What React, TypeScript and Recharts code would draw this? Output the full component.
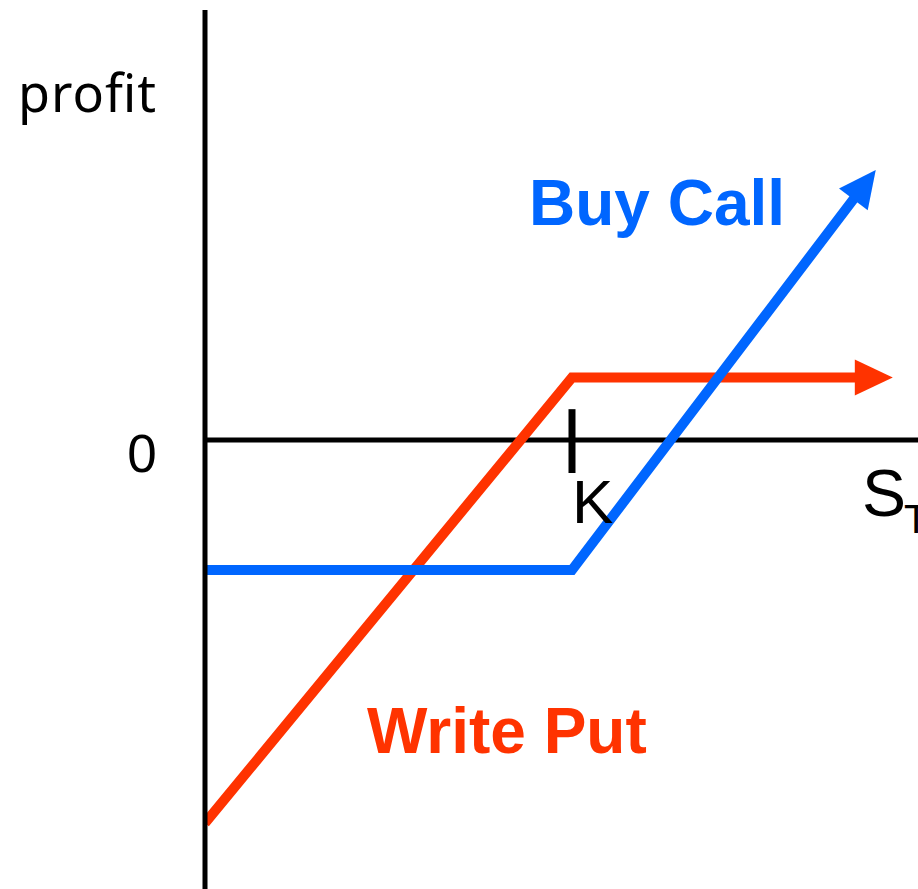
import { ComposedChart, Line, ReferenceLine, XAxis, YAxis } from 'recharts'

// price at expiry (S_T) and profit, in chart units
const STRIKE = 50
const callPrice = [0, 50, 88.5]
const callProfit = [-17.7, -17.7, 33.0]
const putPrice = [0, 50, 88.8]
const putProfit = [-52.2, 8.5, 8.5]
const yTicks = [0]

const BLUE = '#0066ff'
const RED = '#ff3300'
const W = 918
const H = 889

const callData = callPrice.map((x, i) => ({ x, y: callProfit[i] }))
const putData = putPrice.map((x, i) => ({ x, y: putProfit[i] }))

// arrow head drawn on the last point of a series, pointing along the last segment
const arrowDot = (color: string, len: number, half: number) => (props: any) => {
  const { cx, cy, index, points } = props
  if (!points || index !== points.length - 1) return <g key={`d-${index}`} />
  const prev = points[index - 1]
  const dx = cx - prev.x
  const dy = cy - prev.y
  const d = Math.hypot(dx, dy) || 1
  const ux = dx / d
  const uy = dy / d
  const bx = cx - ux * 2
  const by = cy - uy * 2
  const pts = [
    [cx + ux * len, cy + uy * len],
    [bx - uy * half, by + ux * half],
    [bx + uy * half, by - ux * half],
  ]
  return <polygon key={`d-${index}`} points={pts.map((p) => p.join(',')).join(' ')} fill={color} />
}

const ZeroTick = ({ y, payload }: any) => (
  <text x={142} y={y + 32} textAnchor="middle" fontFamily="Liberation Sans, Arial, sans-serif" fontSize={53} fill="#000">
    {payload.value}
  </text>
)

export default function App() {
  return (
    <div style={{ position: 'absolute', left: 0, top: 0, width: W, height: H, background: '#fff' }}>
      <ComposedChart width={W} height={H} margin={{ top: 10, right: 0, bottom: 0, left: 0 }}>
        <XAxis type="number" dataKey="x" domain={[0, 97.14]} hide allowDataOverflow />
        <YAxis
          type="number"
          width={205}
          domain={[-61.17, 58.58]}
          ticks={yTicks}
          tick={<ZeroTick />}
          tickLine={false}
          axisLine={{ stroke: '#000', strokeWidth: 5 }}
          allowDataOverflow
        />
        <ReferenceLine y={0} stroke="#000" strokeWidth={5} />
        <ReferenceLine
          segment={[
            { x: STRIKE, y: 4.2 },
            { x: STRIKE, y: -4.5 },
          ]}
          stroke="#000"
          strokeWidth={7}
        />
        <Line
          data={putData}
          dataKey="y"
          type="linear"
          stroke={RED}
          strokeWidth={10}
          strokeLinejoin="miter"
          dot={arrowDot(RED, 36, 18)}
          activeDot={false}
          isAnimationActive={false}
        />
        <Line
          data={callData}
          dataKey="y"
          type="linear"
          stroke={BLUE}
          strokeWidth={10}
          strokeLinejoin="miter"
          dot={arrowDot(BLUE, 35, 18)}
          activeDot={false}
          isAnimationActive={false}
        />
      </ComposedChart>
      <svg width={W} height={H} style={{ position: 'absolute', left: 0, top: 0, pointerEvents: 'none' }}>
        <text x={18} y={112} fontFamily="Noto Sans, DejaVu Sans, sans-serif" fontSize={52} textLength={138} lengthAdjust="spacing" fill="#000">
          profit
        </text>
        <g fontFamily="Liberation Sans, Arial, sans-serif">
          <text x={529} y={225} fontSize={64} fontWeight="bold" fill={BLUE}>
            Buy Call
          </text>
          <text x={367} y={753} fontSize={64} fontWeight="bold" fill={RED}>
            Write Put
          </text>
          <text x={572} y={523} fontSize={62} fill="#000">
            K
          </text>
          <text x={862} y={516} fontSize={66} fill="#000">
            S
          </text>
          <text x={904} y={533} fontSize={40} fill="#000">
            T
          </text>
        </g>
      </svg>
    </div>
  )
}
